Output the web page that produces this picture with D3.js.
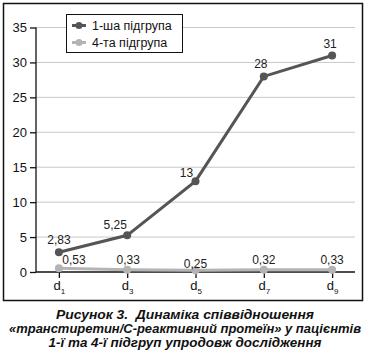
<!DOCTYPE html>
<html><head><meta charset="utf-8">
<script src="https://cdn.jsdelivr.net/npm/d3@7"></script>
<style>body{margin:0;background:#fff}svg{display:block}text{font-family:"Liberation Sans",Arial,sans-serif}</style>
</head><body><div id="chart"></div>
<script>
const categories = ["1", "3", "5", "7", "9"];
const group1 = [2.83, 5.25, 13, 28, 31];
const group4 = [0.53, 0.33, 0.25, 0.32, 0.33];
const group1Labels = ["2,83", "5,25", "13", "28", "31"];
const group4Labels = ["0,53", "0,33", "0,25", "0,32", "0,33"];
const seriesNames = ["1-ша підгрупа", "4-та підгрупа"];
const yTicks = [0, 5, 10, 15, 20, 25, 30, 35];
const captionLines = ["Рисунок 3.  Динаміка співвідношення", "«транстиретин/С-реактивний протеїн» у пацієнтів", "1-ї та 4-ї підгруп упродовж дослідження"];

// layout (label offsets relative to points, caption line widths)
const off1 = [[0, -8], [-12, -6], [-9, -4], [-3, -8], [-2, -7]];
const off4 = [[15, -4], [1, -6], [0, -2], [0, -6], [0, -6]];
const captionWidths = [258, 352, 273];

const W = 367, H = 359;
const colors = ["#555555", "#b4b4b4"];
const svg = d3.select("#chart").append("svg").attr("width", W).attr("height", H);

svg.append("rect").attr("x", 3.5).attr("y", 3.5).attr("width", 359).attr("height", 297)
  .attr("fill", "none").attr("stroke", "#111").attr("stroke-width", 1.5);

const x = d3.scalePoint().domain(categories).range([36, 355]).padding(0.335);
const y = d3.scaleLinear().domain([0, 35]).range([272, 27.5]);

// grid
svg.append("g").selectAll("line").data(yTicks.filter(d => d > 0)).join("line")
  .attr("x1", 36).attr("x2", 355).attr("y1", d => y(d)).attr("y2", d => y(d))
  .attr("stroke", "#c8c8c8").attr("stroke-width", 1);

// y axis
const ya = svg.append("g").attr("transform", "translate(36,0)")
  .call(d3.axisLeft(y).tickValues(yTicks).tickSize(6).tickPadding(3).tickFormat(d => d));
ya.attr("font-size", 13).attr("font-family", '"Liberation Sans",Arial,sans-serif');
ya.select(".domain").attr("stroke", "#111").attr("stroke-width", 1.3).attr("d", `M0,${y(0)}V${y(35)}`);
ya.selectAll(".tick line").attr("stroke", "#111").attr("stroke-width", 1.3);
ya.selectAll(".tick text").attr("fill", "#111");

// x axis
const xa = svg.append("g").attr("transform", `translate(0,${y(0)})`)
  .call(d3.axisBottom(x).tickSize(6).tickFormat(""));
xa.attr("font-size", 13).attr("font-family", '"Liberation Sans",Arial,sans-serif');
xa.select(".domain").attr("stroke", "#111").attr("stroke-width", 1.3).attr("d", "M36,0H355");
xa.selectAll(".tick line").attr("stroke", "#111").attr("stroke-width", 1.3);
xa.selectAll(".tick").append("text").attr("y", 18).attr("fill", "#111").attr("text-anchor", "middle")
  .each(function(d) {
    const t = d3.select(this);
    t.append("tspan").text("d");
    t.append("tspan").attr("font-size", 8).attr("dy", 4).text(d);
  });

const line = d3.line().x((d, i) => x(categories[i])).y(d => y(d));
[[group4, group4Labels, off4, 1], [group1, group1Labels, off1, 0]].forEach(([vals, labs, off, k]) => {
  svg.append("path").datum(vals).attr("d", line).attr("fill", "none")
    .attr("stroke", colors[k]).attr("stroke-width", 3);
  svg.append("g").selectAll("circle").data(vals).join("circle")
    .attr("cx", (d, i) => x(categories[i])).attr("cy", d => y(d)).attr("r", 4).attr("fill", colors[k]);
  svg.append("g").selectAll("text").data(vals).join("text")
    .attr("x", (d, i) => x(categories[i]) + off[i][0]).attr("y", (d, i) => y(d) + off[i][1])
    .attr("text-anchor", "middle").attr("font-size", 12).attr("fill", "#222")
    .text((d, i) => labs[i]);
});

// legend
const lg = svg.append("g");
lg.append("rect").attr("x", 66.5).attr("y", 14.5).attr("width", 116).attr("height", 38)
  .attr("fill", "#fff").attr("stroke", "#111").attr("stroke-width", 1);
seriesNames.forEach((n, k) => {
  const yy = 25.5 + k * 17;
  lg.append("line").attr("x1", 72).attr("x2", 86).attr("y1", yy).attr("y2", yy)
    .attr("stroke", colors[k]).attr("stroke-width", 3);
  lg.append("circle").attr("cx", 79).attr("cy", yy).attr("r", 3.5).attr("fill", colors[k]);
  lg.append("text").attr("x", 92).attr("y", yy + 4.5).attr("font-size", 12.5).attr("fill", "#111").text(n);
});

// caption
svg.append("g").selectAll("text").data(captionLines).join("text")
  .attr("x", 185).attr("y", (d, i) => 319 + i * 14)
  .attr("text-anchor", "middle").attr("font-size", 13).attr("font-weight", "bold").attr("font-style", "italic")
  .attr("textLength", (d, i) => captionWidths[i]).attr("lengthAdjust", "spacingAndGlyphs")
  .style("white-space", "pre")
  .attr("fill", "#111").text(d => d);
</script></body></html>
